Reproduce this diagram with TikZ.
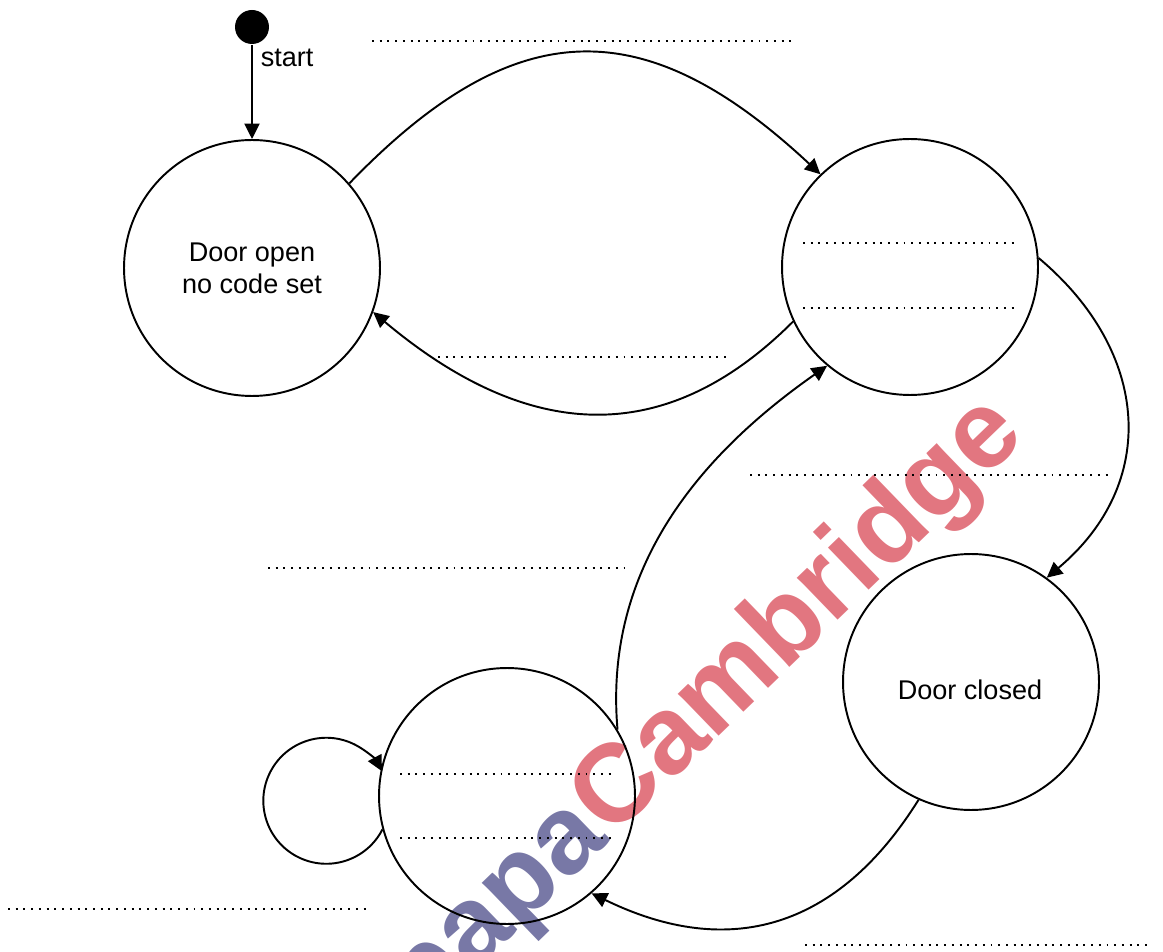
\documentclass[tikz,border=0pt]{standalone}
\usepackage{fontspec}
\setmainfont{Liberation Sans}
\usetikzlibrary{arrows.meta}
\definecolor{wmred}{RGB}{226,118,128}
\definecolor{wmblue}{RGB}{120,120,166}
\tikzset{
  state/.style={draw,circle,minimum size=5.12cm,inner sep=0pt,align=center},
  blank/.style={line width=1.1pt,dash pattern=on 1.1pt off 3.3pt},
  wm/.style={font=\bfseries\fontsize{63}{63}\selectfont,inner sep=0pt,rotate=44}
}
\begin{document}
\begin{tikzpicture}[x=0.02cm,y=0.02cm,line width=1.1pt,>={Triangle[length=3.1mm,width=3mm]},font=\fontsize{15.4}{18.2}\selectfont]
    \useasboundingbox (0,0) rectangle (1163,951);
    %% Watermark
    \node[wm,text=wmred,anchor=base west] (wmcam) at (611,111) {Cambridge};
    \node[wm,text=wmblue,anchor=base east] (wmpapa) at (wmcam.base west) {papa};
    %% States
    \node[fill,circle,minimum size=0.68cm,inner sep=0pt] (init) at (252,924) {};
    \node[anchor=west] (startlbl) at (254,893) {start};
    \node[state] (open) at (252,683) {Door open\\no code set};
    \node[state] (set) at (910,684) {};
    \node[state] (closed) at (971,269) {};
    \node (closedtxt) at (970,261) {Door closed};
    \node[state] (locked) at (507,155) {};
    %% Transitions
    \draw[->] (init) -- (open);
    \draw[->] (open.41) to[out=46,in=137,looseness=1.3] (set.134);
    \draw[->] (set.205) to[out=225,in=-40,looseness=1.16] (open.340);
    \draw[->] (set.4) to[out=-40,in=40,looseness=1.17] (closed.54);
    \draw[->] (closed.246) to[out=238,in=-26,looseness=1.15] (locked.311);
    \draw[->] (locked.31) to[out=95,in=215,looseness=0.97] (set.230);
    \draw[->] (locked.195) arc[start angle=-27,end angle=-332,radius=63];
    %% Answer lines
    \draw[blank] (372,910) -- (793,910);
    \draw[blank] (803,708) -- (1015,708);
    \draw[blank] (803,643) -- (1015,643);
    \draw[blank] (438,594) -- (728,594);
    \draw[blank] (750,476) -- (1108,476);
    \draw[blank] (268,383) -- (625,383);
    \draw[blank] (400,177) -- (613,177);
    \draw[blank] (400,113) -- (613,113);
    \draw[blank] (8,42) -- (366,42);
    \draw[blank] (805,6) -- (1150,6);
\end{tikzpicture}
\end{document}
